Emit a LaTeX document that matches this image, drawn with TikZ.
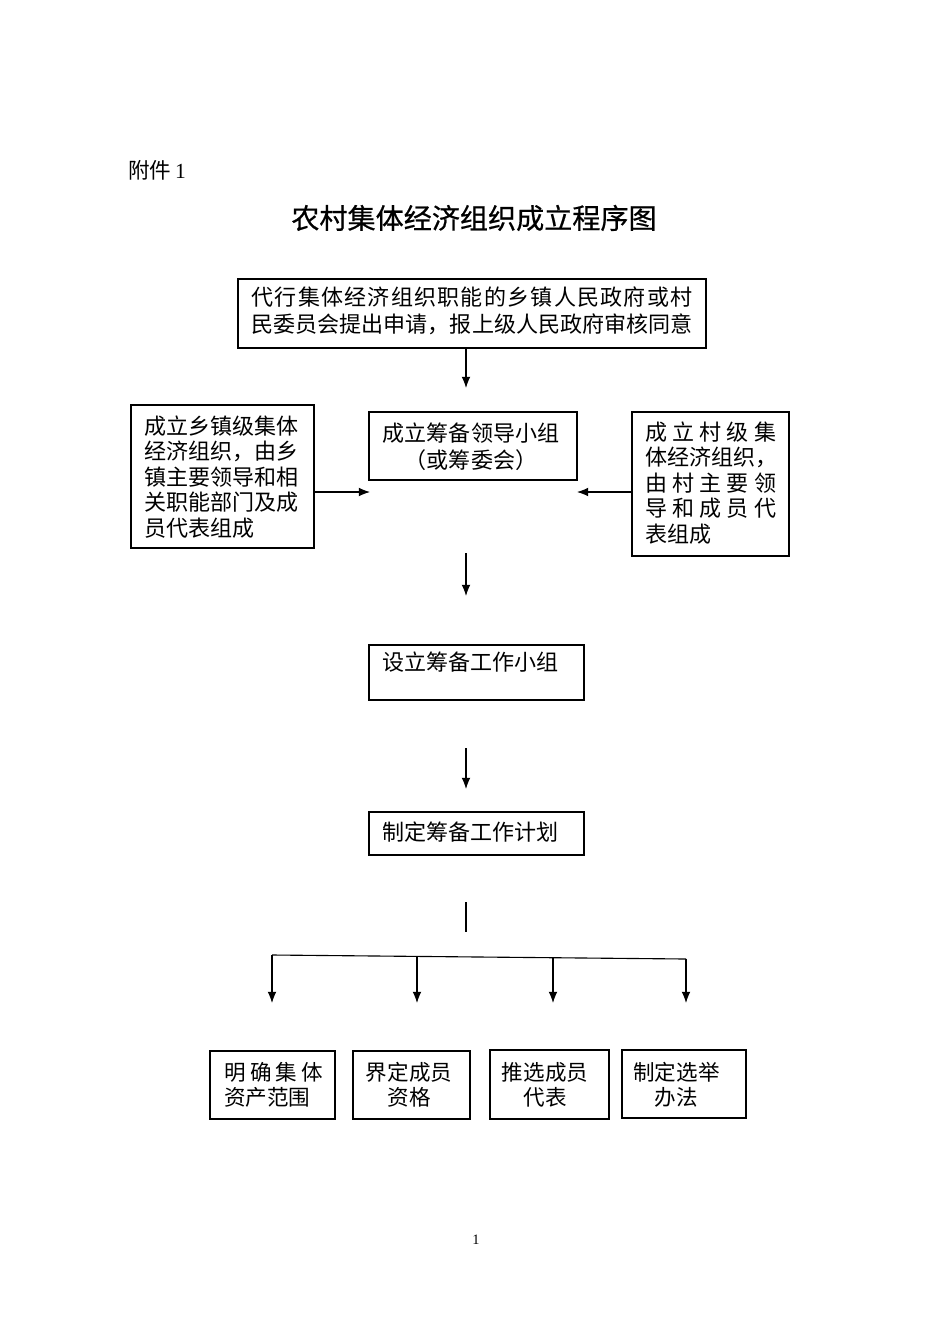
\documentclass[tikz,border=0pt]{standalone}
\usepackage{fontspec}
\setmainfont{Liberation Serif}
\newfontfamily\cjk{Noto Sans CJK SC}
\newfontfamily\cjktitle[FakeBold=0.6]{Noto Sans CJK SC}
\usetikzlibrary{arrows.meta,fit}
\newcommand{\sprd}[2]{\makebox[#1][s]{#2}}
\begin{document}
\begin{tikzpicture}[x=0.6263pt,y=-0.6263pt,
  box/.style={draw,line width=0.9pt,inner sep=0pt,fit={#1}},
  txt/.style={inner sep=0pt,font=\fontsize{13.8}{16}\cjk},
  arr/.style={line width=0.7pt,-{Latex[length=7pt,width=5.5pt]}},
  plain/.style={line width=0.7pt}]
\useasboundingbox (0,0) rectangle (950,1344);

% header
\node[inner sep=0pt,anchor=west] (att) at (128,170) {\fontsize{13.5}{16}\selectfont{\cjk 附件}\,1};
\node[inner sep=0pt] (title) at (474,218) {\fontsize{17.6}{20}\cjktitle 农村集体经济组织成立程序图};

% boxes
\node[box={(238,279) (706,348)}] (top) {};
\node[box={(131,405) (314,548)}] (left) {};
\node[box={(369,412) (577,480)}] (mid) {};
\node[box={(632,412) (789,556)}] (right) {};
\node[box={(369,645) (584,700)}] (work) {};
\node[box={(369,812) (584,855)}] (plan) {};
\node[box={(210,1051) (335,1119)}] (b1) {};
\node[box={(353,1051) (470,1119)}] (b2) {};
\node[box={(490,1050) (609,1119)}] (b3) {};
\node[box={(622,1050) (746,1118)}] (b4) {};

% texts
\node[txt,font=\fontsize{13.8}{16.9}\cjk,align=center] (topt) at (472,310.5)
  {\sprd{276pt}{代\hfill 行\hfill 集\hfill 体\hfill 经\hfill 济\hfill 组\hfill 织\hfill 职\hfill 能\hfill 的\hfill 乡\hfill 镇\hfill 人\hfill 民\hfill 政\hfill 府\hfill 或\hfill 村}\\
   \sprd{276pt}{民委员会提出申请，报上级人民政府审核同意}};
\node[txt,align=left,anchor=west] (leftt) at (144,477)
  {成立乡镇级集体\\经济组织，由乡\\镇主要领导和相\\关职能部门及成\\员代表组成};
\node[txt,align=center,font=\fontsize{13.8}{16.9}\cjk] (midt) at (471,446.5)
  {成立筹备领导小组\\（或筹委会）};
\node[txt,align=left,anchor=west] (rightt) at (645,483)
  {\sprd{82pt}{成\hfill 立\hfill 村\hfill 级\hfill 集}\\
   \sprd{82pt}{体经济组织，}\\
   \sprd{82pt}{由\hfill 村\hfill 主\hfill 要\hfill 领}\\
   \sprd{82pt}{导\hfill 和\hfill 成\hfill 员\hfill 代}\\
   表组成};
\node[txt,anchor=west] (workt) at (382,662) {设立筹备工作小组};
\node[txt,anchor=west] (plant) at (382,832) {制定筹备工作计划};
\node[txt,align=left,anchor=west,font=\fontsize{13.5}{15.6}\cjk] (b1t) at (224,1084.5)
  {\sprd{62pt}{明\hfill 确\hfill 集\hfill 体}\\资产范围};
\node[txt,align=center,font=\fontsize{13.5}{15.6}\cjk] (b2t) at (409,1084.5) {界定成员\\资格};
\node[txt,align=center,font=\fontsize{13.5}{15.6}\cjk] (b3t) at (545,1084.5) {推选成员\\代表};
\node[txt,align=center,font=\fontsize{13.5}{15.6}\cjk] (b4t) at (676.5,1084.5) {制定选举\\办法};

\node[inner sep=0pt,font=\fontsize{9}{11}\selectfont] (pg) at (476,1240) {1};

% connectors
\coordinate (a1) at (466,388);
\draw[arr] (a1 |- top.south) -- (a1);
\coordinate (lc) at (370,492);
\coordinate (rc) at (577,492);
\draw[arr] (left.east |- lc) -- (lc);
\draw[arr] (right.west |- rc) -- (rc);
\coordinate (a2s) at (466,553);
\coordinate (a2e) at (466,596);
\draw[arr] (a2s) -- (a2e);
\coordinate (a3s) at (466,748);
\coordinate (a3e) at (466,789);
\draw[arr] (a3s) -- (a3e);
\coordinate (s1) at (466,902);
\coordinate (s2) at (466,932);
\draw[plain] (s1) -- (s2);
\coordinate (h1) at (272,955);
\coordinate (h2) at (417,956.2);
\coordinate (h3) at (553,957.3);
\coordinate (h4) at (686,959);
\draw[plain] (h1) -- (h4);
\coordinate (e1) at (272,1003);
\coordinate (e2) at (417,1003);
\coordinate (e3) at (553,1003);
\coordinate (e4) at (686,1003);
\draw[arr] (h1) -- (e1);
\draw[arr] (h2) -- (e2);
\draw[arr] (h3) -- (e3);
\draw[arr] (h4) -- (e4);
\end{tikzpicture}
\end{document}
